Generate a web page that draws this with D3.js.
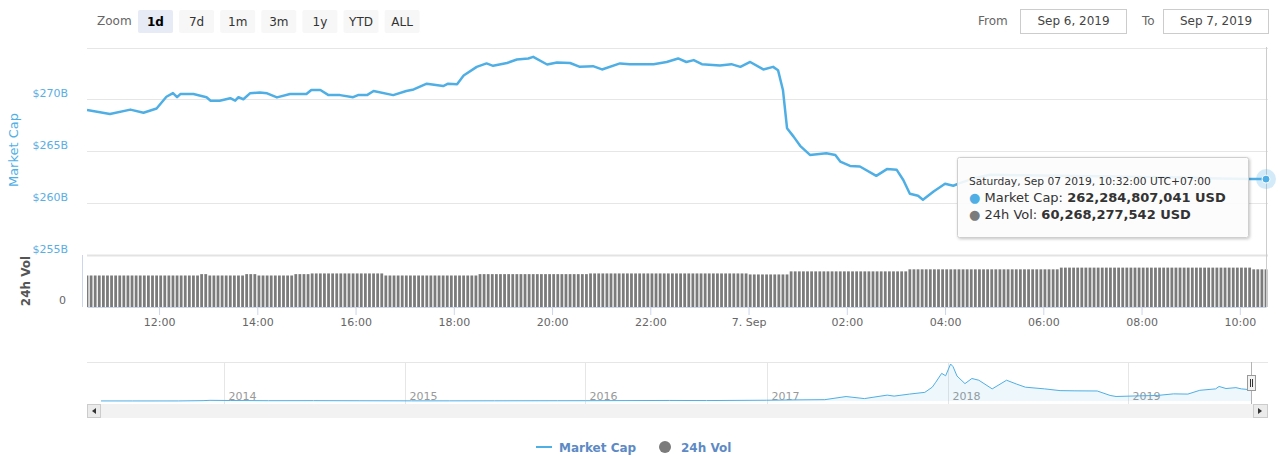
<!DOCTYPE html>
<html><head><meta charset="utf-8">
<script src="https://cdn.jsdelivr.net/npm/d3@7"></script>
<style>
body{margin:0;background:#fff;}
svg{display:block;font-family:"DejaVu Sans",sans-serif;}
</style></head><body>
<svg id="chart" width="1280" height="459"></svg>
<script>
// ---------- DATA ----------
const mcTimes = [
"2019-09-06 10:32","2019-09-06 11:00","2019-09-06 11:25","2019-09-06 11:41","2019-09-06 11:57",
"2019-09-06 12:09","2019-09-06 12:17","2019-09-06 12:22","2019-09-06 12:26","2019-09-06 12:42",
"2019-09-06 12:58","2019-09-06 13:03","2019-09-06 13:14","2019-09-06 13:27","2019-09-06 13:33",
"2019-09-06 13:37","2019-09-06 13:43","2019-09-06 13:51","2019-09-06 14:03","2019-09-06 14:12",
"2019-09-06 14:24","2019-09-06 14:40","2019-09-06 15:00","2019-09-06 15:06","2019-09-06 15:17",
"2019-09-06 15:27","2019-09-06 15:41","2019-09-06 15:57","2019-09-06 16:03","2019-09-06 16:14",
"2019-09-06 16:22","2019-09-06 16:46","2019-09-06 17:02","2019-09-06 17:11","2019-09-06 17:27",
"2019-09-06 17:47","2019-09-06 17:53","2019-09-06 18:04","2019-09-06 18:12","2019-09-06 18:28",
"2019-09-06 18:40","2019-09-06 18:48","2019-09-06 19:05","2019-09-06 19:17","2019-09-06 19:31",
"2019-09-06 19:37","2019-09-06 19:54","2019-09-06 20:06","2019-09-06 20:22","2019-09-06 20:34",
"2019-09-06 20:50","2019-09-06 21:01","2019-09-06 21:23","2019-09-06 21:35","2019-09-06 22:04",
"2019-09-06 22:20","2019-09-06 22:34","2019-09-06 22:44","2019-09-06 22:53","2019-09-06 23:03",
"2019-09-06 23:25","2019-09-06 23:39","2019-09-06 23:50","2019-09-07 00:02","2019-09-07 00:18",
"2019-09-07 00:30","2019-09-07 00:36","2019-09-07 00:42","2019-09-07 00:47","2019-09-07 00:55",
"2019-09-07 01:03","2019-09-07 01:15","2019-09-07 01:35","2019-09-07 01:46","2019-09-07 01:52",
"2019-09-07 02:04","2019-09-07 02:16","2019-09-07 02:36","2019-09-07 02:49","2019-09-07 03:01",
"2019-09-07 03:09","2019-09-07 03:17","2019-09-07 03:27","2019-09-07 03:33","2019-09-07 03:46",
"2019-09-07 04:00","2019-09-07 04:10","2019-09-07 04:18","2019-09-07 04:37","2019-09-07 04:55",
"2019-09-07 05:31","2019-09-07 06:20","2019-09-07 07:09","2019-09-07 07:58","2019-09-07 08:47",
"2019-09-07 09:36","2019-09-07 10:12","2019-09-07 10:32"];
const mcValues = [
268.96,268.57,269.0,268.7,269.1,
270.24,270.6,270.2,270.5,270.5,
270.2,269.86,269.86,270.1,269.86,
270.2,270.0,270.57,270.66,270.57,
270.18,270.5,270.5,270.9,270.9,
270.4,270.4,270.2,270.4,270.4,
270.8,270.4,270.8,270.95,271.5,
271.27,271.5,271.46,272.3,273.13,
273.46,273.23,273.5,273.84,273.94,
274.1,273.36,273.56,273.5,273.13,
273.2,272.88,273.46,273.39,273.39,
273.6,273.94,273.6,273.78,273.39,
273.26,273.39,273.13,273.6,272.88,
273.13,272.81,270.9,267.2,266.39,
265.5,264.62,264.79,264.62,263.98,
263.56,263.5,262.6,263.25,263.18,
262.2,260.87,260.67,260.29,261.09,
261.83,261.64,261.9,262.4,262.7,
262.65,262.6,262.55,262.5,262.45,
262.35,262.3,262.284807041];

// 24h volume (billions USD), one bar every 5 minutes, ending at the last market-cap time
const volValues = [
50.4,50.4,50.4,50.4,50.4,50.4,50.4,50.4,50.4,50.4,50.4,50.4,50.4,50.4,
50.4,50.4,50.4,50.4,50.4,50.4,50.4,50.4,50.4,50.4,50.4,50.4,50.4,50.4,
52.6,52.6,
50.4,50.4,50.4,50.4,50.4,50.4,50.4,50.4,50.4,
52.6,52.6,52.6,
50.4,50.4,50.4,50.4,50.4,50.4,50.4,50.4,50.4,
52.6,52.6,52.6,52.6,
53.7,53.7,53.7,53.7,53.7,53.7,53.7,53.7,53.7,53.7,53.7,53.7,53.7,53.7,53.7,53.7,53.7,53.7,
50.4,50.4,50.4,50.4,50.4,50.4,50.4,50.4,50.4,50.4,50.4,50.4,50.4,50.4,50.4,50.4,50.4,50.4,50.4,50.4,50.4,50.4,50.4,
52.6,52.6,52.6,52.6,52.6,52.6,52.6,52.6,52.6,52.6,52.6,52.6,52.6,52.6,52.6,52.6,52.6,52.6,52.6,52.6,52.6,52.6,52.6,52.6,52.6,52.6,52.6,
53.7,53.7,53.7,53.7,53.7,53.7,53.7,53.7,53.7,53.7,53.7,53.7,53.7,53.7,53.7,53.7,53.7,53.7,53.7,53.7,
53.7,53.7,53.7,53.7,53.7,53.7,53.7,53.7,53.7,53.7,53.7,53.7,53.7,53.7,53.7,53.7,53.7,53.7,53.7,
52.1,52.1,52.1,52.1,52.1,52.1,52.1,52.1,52.1,52.1,
57.0,57.0,57.0,57.0,57.0,57.0,57.0,57.0,57.0,57.0,57.0,57.0,57.0,57.0,57.0,
57.0,57.0,57.0,57.0,57.0,57.0,57.0,57.0,57.0,57.0,57.0,57.0,57.0,57.0,
60.3,60.3,60.3,60.3,60.3,60.3,60.3,60.3,60.3,60.3,60.3,60.3,60.3,60.3,60.3,60.3,60.3,60.3,60.3,
60.3,60.3,60.3,60.3,60.3,60.3,60.3,60.3,60.3,60.3,60.3,60.3,60.3,60.3,60.3,60.3,60.3,60.3,
63.0,63.0,63.0,63.0,63.0,63.0,63.0,63.0,63.0,63.0,63.0,63.0,63.0,63.0,63.0,63.0,63.0,63.0,63.0,63.0,
63.0,63.0,63.0,63.0,63.0,63.0,63.0,63.0,63.0,63.0,63.0,63.0,63.0,63.0,63.0,63.0,63.0,63.0,63.0,63.0,
63.0,63.0,63.0,63.0,63.0,63.0,63.0,
60.27,60.27,60.27,60.268277542];

const mcTickValues = [255,260,265,270,275];
const mcTickLabels = ["$255B","$260B","$265B","$270B",""];

const navDates = ["2013-04-28","2013-07-01","2013-10-01","2013-11-20","2013-12-04","2014-01-15",
"2014-04-01","2014-07-01","2014-10-01","2015-01-15","2015-04-01","2015-07-01","2015-11-05",
"2016-01-01","2016-06-18","2016-09-01","2016-12-31","2017-03-01","2017-04-28","2017-06-10",
"2017-07-17","2017-09-01","2017-09-15","2017-10-16","2017-11-16","2017-12-01","2017-12-08",
"2017-12-20","2017-12-28","2018-01-07","2018-01-12","2018-01-20","2018-02-05","2018-02-19",
"2018-03-05","2018-04-01","2018-04-30","2018-05-20","2018-06-07","2018-07-16","2018-08-16",
"2018-09-15","2018-10-30","2018-11-25","2018-12-07","2019-01-23","2019-03-01","2019-04-02",
"2019-05-01","2019-05-25","2019-06-26","2019-07-03","2019-07-17","2019-08-06","2019-08-17",
"2019-08-29","2019-09-07"];
const navValues = [1.6,1.2,1.6,8,15,11,
7,8,5.5,3.5,3.3,4.3,6,
7,12,10,17,25,30,100,
54,132,110,155,194,310,420,
620,566,830,770,560,390,505,
466,272,466,380,310,272,233,
228,225,125,101,116,125,160,
155,240,272,326,280,300,272,
260,262];

const zoomButtons = ["1d","7d","1m","3m","1y","YTD","ALL"];
const fromLabel = "Sep 6, 2019", toLabel = "Sep 7, 2019";

// ---------- DRAW ----------
const BLUE = "#4fafe5";
const svg = d3.select("#chart");
const parse = d3.utcParse("%Y-%m-%d %H:%M");
const parseD = d3.utcParse("%Y-%m-%d");
const mc = mcTimes.map((t,i)=>({t:parse(t), v:mcValues[i]}));
const t0 = mc[0].t, t1 = mc[mc.length-1].t;
const nV = volValues.length;
const vol = volValues.map((v,i)=>({t:d3.utcMinute.offset(t1, -5*(nV-1-i)), v}));

const PL=87, PR=1266;
const x = d3.scaleUtc().domain([t0,t1]).range([PL,PR]);
const y = d3.scaleLinear().domain([255,275]).range([254.5,47.5]);
const yv = d3.scaleLinear().domain([0,80]).range([307,257]);

const defs = svg.append("defs");
defs.append("clipPath").attr("id","clipMain").append("rect").attr("x",PL).attr("y",40).attr("width",PR-PL+2).attr("height",216);
defs.append("clipPath").attr("id","clipVol").append("rect").attr("x",PL).attr("y",256).attr("width",PR-PL+2).attr("height",52);
const f = defs.append("filter").attr("id","shadow").attr("x","-10%").attr("y","-10%").attr("width","130%").attr("height","140%");
f.append("feDropShadow").attr("dx",1).attr("dy",1).attr("stdDeviation",1.5).attr("flood-color","#000").attr("flood-opacity",0.25);

// range selector
svg.append("text").attr("x",97).attr("y",25).attr("font-size",12).attr("fill","#666").text("Zoom");
const bw=35, bx0=138, bstep=41.1;
zoomButtons.forEach((b,i)=>{
  const g = svg.append("g").attr("transform",`translate(${bx0+i*bstep},10)`);
  g.append("rect").attr("width",bw).attr("height",23).attr("rx",2).attr("fill", i===0?"#e6ebf5":"#f7f7f7");
  g.append("text").attr("x",bw/2).attr("y",16).attr("text-anchor","middle").attr("font-size",12)
    .attr("font-weight", i===0?"bold":"normal").attr("fill", i===0?"#000":"#333").text(b);
});
svg.append("text").attr("x",978).attr("y",25).attr("font-size",12).attr("fill","#666").text("From");
svg.append("rect").attr("x",1020.5).attr("y",9.5).attr("width",106).attr("height",24).attr("fill","#fff").attr("stroke","#ccc");
svg.append("text").attr("x",1073.5).attr("y",25).attr("text-anchor","middle").attr("font-size",12).attr("fill","#444").text(fromLabel);
svg.append("text").attr("x",1142).attr("y",25).attr("font-size",12).attr("fill","#666").text("To");
svg.append("rect").attr("x",1163.5).attr("y",9.5).attr("width",105).attr("height",24).attr("fill","#fff").attr("stroke","#ccc");
svg.append("text").attr("x",1216).attr("y",25).attr("text-anchor","middle").attr("font-size",12).attr("fill","#444").text(toLabel);

// grid + y labels
mcTickValues.forEach((v,i)=>{
  const yy = Math.round(y(v))+0.5;
  svg.append("line").attr("x1",PL).attr("x2",1268).attr("y1",yy).attr("y2",yy).attr("stroke","#e6e6e6");
  if (mcTickLabels[i]) svg.append("text").attr("x",68).attr("y",yy-3).attr("text-anchor","end")
     .attr("font-size",11).attr("fill","#5aaee3").text(mcTickLabels[i]);
});
svg.append("line").attr("x1",PL).attr("x2",1268).attr("y1",255.5).attr("y2",255.5).attr("stroke","#e3e3e3").attr("stroke-width",2);

svg.append("text").attr("transform","translate(13,150) rotate(-90)").attr("text-anchor","middle")
  .attr("dominant-baseline","central").attr("font-size",13).attr("fill",BLUE).text("Market Cap");
svg.append("text").attr("transform","translate(26,281) rotate(-90)").attr("text-anchor","middle")
  .attr("dominant-baseline","central").attr("font-size",12).attr("font-weight","bold").attr("fill","#555").text("24h Vol");
svg.append("text").attr("x",66).attr("y",304).attr("text-anchor","end").attr("font-size",11).attr("fill","#666").text("0");
svg.append("line").attr("x1",82.5).attr("x2",82.5).attr("y1",255).attr("y2",307).attr("stroke","#ccd6eb");

// volume bars
svg.append("g").attr("clip-path","url(#clipVol)").selectAll("rect").data(vol).join("rect")
  .attr("x",d=>x(d.t)-1.4).attr("width",2.8).attr("y",d=>yv(d.v)).attr("height",d=>yv(0)-yv(d.v)).attr("fill","#7b7b7b");

// x axis
const xTicks = d3.utcHour.every(2).range(d3.utcHour.ceil(t0), t1);
const fmtH = d3.utcFormat("%H:%M"), fmtD = d3.utcFormat("%-d. %b");
const xAxis = d3.axisBottom(x).tickValues(xTicks).tickSize(8).tickSizeOuter(0)
  .tickFormat(d=> d.getUTCHours()===0 ? fmtD(d) : fmtH(d));
const gx = svg.append("g").attr("transform","translate(0,307)").call(xAxis);
gx.select(".domain").attr("stroke","#ccd6eb");
gx.selectAll(".tick line").attr("stroke","#ccd6eb");
gx.selectAll(".tick text").attr("fill","#666").attr("font-size",11).attr("font-family","DejaVu Sans");

// crosshair
svg.append("line").attr("x1",PR+0.5).attr("x2",PR+0.5).attr("y1",47).attr("y2",307).attr("stroke","#cccccc");

// main line
const line = d3.line().x(d=>x(d.t)).y(d=>y(d.v));
svg.append("path").datum(mc).attr("clip-path","url(#clipMain)").attr("d",line).attr("fill","none")
  .attr("stroke",BLUE).attr("stroke-width",2.5).attr("stroke-linejoin","round");

// tooltip
const last = mc[mc.length-1], lastV = vol[vol.length-1];
const tip = svg.append("g").attr("transform","translate(957,157)");
tip.append("rect").attr("x",0.5).attr("y",0.5).attr("width",291).attr("height",80).attr("rx",2)
  .attr("fill","rgba(255,255,255,0.88)").attr("stroke","#cfcfcf").attr("filter","url(#shadow)");
const fmtTip = d3.utcFormat("%A, %b %d %Y, %H:%M:%S");
const num = v=>d3.format(",")(Math.round(v*1e9));
tip.append("text").attr("x",12).attr("y",28).attr("font-size",10.7).attr("fill","#333").text(fmtTip(last.t)+" UTC+07:00");
const t2 = tip.append("text").attr("x",12).attr("y",45).attr("font-size",13).attr("fill","#333");
t2.append("tspan").attr("fill",BLUE).text("● ");
t2.append("tspan").text("Market Cap: ");
t2.append("tspan").attr("font-weight","bold").text(num(last.v)+" USD");
const t3 = tip.append("text").attr("x",12).attr("y",62).attr("font-size",13).attr("fill","#333");
t3.append("tspan").attr("fill","#7b7b7b").text("● ");
t3.append("tspan").text("24h Vol: ");
t3.append("tspan").attr("font-weight","bold").text(num(lastV.v)+" USD");

// end marker
svg.append("circle").attr("cx",x(last.t)).attr("cy",y(last.v)).attr("r",10).attr("fill",BLUE).attr("opacity",0.25);
svg.append("circle").attr("cx",x(last.t)).attr("cy",y(last.v)).attr("r",4).attr("fill",BLUE).attr("stroke","#fff").attr("stroke-width",1);

// navigator
const nav = navDates.map((d,i)=>({t:parseD(d), v:navValues[i]}));
const nav1 = t1;
const xn = d3.scaleUtc().domain([nav[0].t, nav1]).range([101,1252]);
const yn = d3.scaleLinear().domain([0,830]).range([401,364]);
nav[nav.length-1].t = nav1;
svg.append("line").attr("x1",PL).attr("x2",1268).attr("y1",362.5).attr("y2",362.5).attr("stroke","#e6e6e6");
xn.ticks(d3.utcYear.every(1)).forEach(d=>{
  const xx = Math.round(xn(d))+0.5;
  svg.append("line").attr("x1",xx).attr("x2",xx).attr("y1",362).attr("y2",404).attr("stroke","#e6e6e6");
  svg.append("text").attr("x",xx+4).attr("y",400).attr("font-size",11).attr("fill","#999").text(d.getUTCFullYear());
});
svg.append("path").datum(nav).attr("d",d3.area().x(d=>xn(d.t)).y0(401).y1(d=>yn(d.v)))
  .attr("fill","rgba(79,175,229,0.1)");
svg.append("path").datum(nav).attr("d",d3.line().x(d=>xn(d.t)).y(d=>yn(d.v)))
  .attr("fill","none").attr("stroke",BLUE).attr("stroke-width",1);
// navigator outline + handle
svg.append("line").attr("x1",1251.5).attr("x2",1251.5).attr("y1",362).attr("y2",404).attr("stroke","#b3b3b3");
svg.append("rect").attr("x",1247.5).attr("y",375.5).attr("width",8).attr("height",15).attr("fill","#f2f2f2").attr("stroke","#999");
svg.append("line").attr("x1",1250.5).attr("x2",1250.5).attr("y1",379).attr("y2",387).attr("stroke","#333");
svg.append("line").attr("x1",1252.5).attr("x2",1252.5).attr("y1",379).attr("y2",387).attr("stroke","#333");

// scrollbar
svg.append("rect").attr("x",PL).attr("y",404).attr("width",1268-PL).attr("height",14).attr("fill","#f2f2f2");
svg.append("rect").attr("x",87.5).attr("y",404.5).attr("width",13).attr("height",13).attr("fill","#ebebeb").attr("stroke","#ccc");
svg.append("path").attr("d","M92,411 L96,408 L96,414 Z").attr("fill","#333");
svg.append("rect").attr("x",1253.5).attr("y",404.5).attr("width",14).attr("height",13).attr("fill","#ebebeb").attr("stroke","#ccc");
svg.append("path").attr("d","M263,411 L259,408 L259,414 Z").attr("transform","translate(999,0)").attr("fill","#333");

// legend
const LEGC = "#5d8ac4";
svg.append("line").attr("x1",536).attr("x2",552).attr("y1",447).attr("y2",447).attr("stroke",BLUE).attr("stroke-width",2);
svg.append("text").attr("x",559).attr("y",451.5).attr("font-size",12).attr("font-weight","bold").attr("fill",LEGC).text("Market Cap");
svg.append("circle").attr("cx",665).attr("cy",447).attr("r",6).attr("fill","#7b7b7b");
svg.append("text").attr("x",681).attr("y",451.5).attr("font-size",12).attr("font-weight","bold").attr("fill",LEGC).text("24h Vol");
</script>
</body></html>
